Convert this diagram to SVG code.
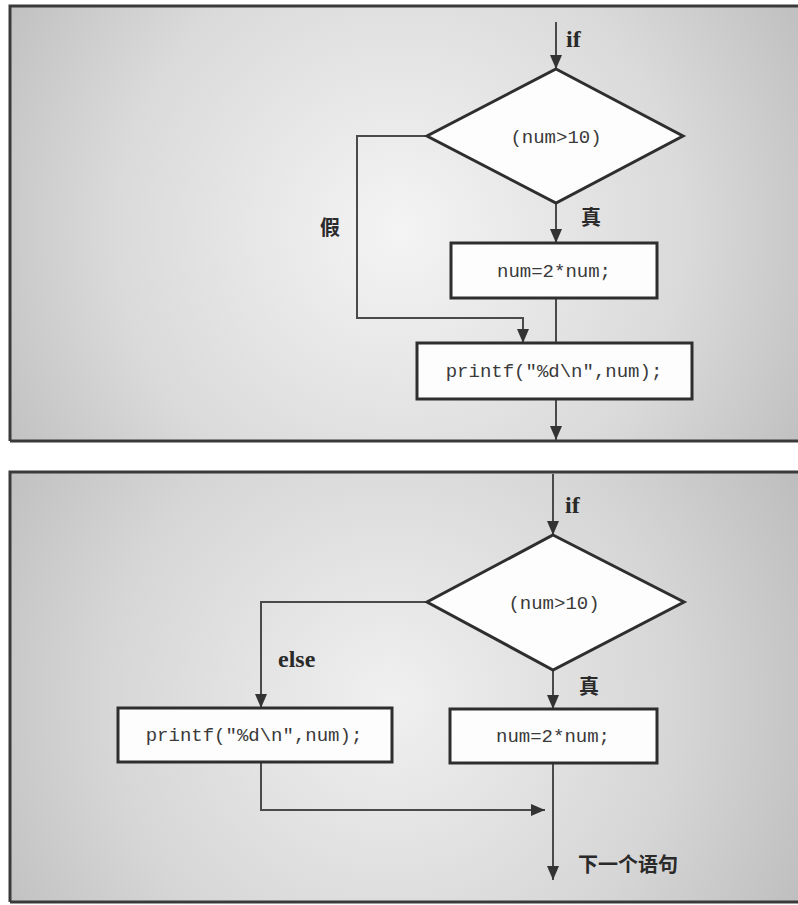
<svg xmlns="http://www.w3.org/2000/svg" width="798" height="905" viewBox="0 0 798 905">
<style>
.panel{fill:none;stroke:#3a3a3a;stroke-width:3}
.shape{fill:#fdfdfd;stroke:#2e2e2e;stroke-width:3}
.conn{fill:none;stroke:#4a4a4a;stroke-width:2}
.code{font-family:"Liberation Mono","Courier New",monospace;font-size:19px;fill:#3a3a3a;text-anchor:middle}
.lbl{font-family:"Liberation Serif","Times New Roman",serif;font-weight:bold;font-size:24px;fill:#2a2a2a}
.cjk{font-family:"Liberation Serif","Noto Sans CJK SC",sans-serif;font-weight:bold;font-size:20px;fill:#2a2a2a}
</style>
<defs>
<radialGradient id="bgTop" gradientUnits="userSpaceOnUse" cx="400" cy="230" r="520">
<stop offset="0" stop-color="#f4f4f4"/>
<stop offset="0.55" stop-color="#dadada"/>
<stop offset="1" stop-color="#b6b6b6"/>
</radialGradient>
<radialGradient id="bgBot" gradientUnits="userSpaceOnUse" cx="390" cy="700" r="520">
<stop offset="0" stop-color="#f0f0f0"/>
<stop offset="0.55" stop-color="#d6d6d6"/>
<stop offset="1" stop-color="#b6b6b6"/>
</radialGradient>
<marker id="arr" markerUnits="userSpaceOnUse" markerWidth="14" markerHeight="12" viewBox="0 0 14 12" refX="14" refY="6" orient="auto">
<path d="M0,0 L14,6 L0,12 z" fill="#333"/>
</marker>
</defs>
<rect x="0" y="0" width="798" height="905" fill="#ffffff"/>
<g id="panel-top">
<rect x="10" y="6" width="790" height="435" fill="url(#bgTop)"/>
<path class="panel" d="M10,441 V6 H798"/>
<path class="panel" d="M10,441 H798"/>
</g>
<g id="panel-bottom">
<rect x="10" y="472" width="790" height="430" fill="url(#bgBot)"/>
<path class="panel" d="M10,902 V472 H798"/>
<path class="panel" d="M10,902 H798"/>
</g>

<g id="connectors">
<path class="conn" d="M556,22 V69" marker-end="url(#arr)"/>
<path class="conn" d="M556,203 V243" marker-end="url(#arr)"/>
<path class="conn" d="M427,136 H357 V318 H523 V343" marker-end="url(#arr)"/>
<path class="conn" d="M556,298 V343"/>
<path class="conn" d="M556,399 V440" marker-end="url(#arr)"/>

<path class="conn" d="M553,474 V535" marker-end="url(#arr)"/>
<path class="conn" d="M553,670 V709" marker-end="url(#arr)"/>
<path class="conn" d="M427,602 H261 V708" marker-end="url(#arr)"/>
<path class="conn" d="M261,762 V810 H545"  marker-end="url(#arr)"/>
<path class="conn" d="M553,763 V880" marker-end="url(#arr)"/>
</g>

<g id="top-if">
<text class="lbl" x="566" y="47">if</text>
</g>
<g id="top-decision">
<polygon class="shape" points="556,69 683,136 556,203 427,136"/>
<text class="code" x="556" y="143">(num&gt;10)</text>
</g>
<g id="top-false-label">
<text class="cjk" x="330" y="235" text-anchor="middle">假</text>
</g>
<g id="top-true-label">
<text class="cjk" x="591" y="225" text-anchor="middle">真</text>
</g>
<g id="top-assign">
<rect class="shape" x="451" y="243" width="206" height="55"/>
<text class="code" x="554" y="277">num=2*num;</text>
</g>
<g id="top-printf">
<rect class="shape" x="417" y="343" width="275" height="56"/>
<text class="code" x="554" y="377">printf("%d\n",num);</text>
</g>

<g id="bottom-if">
<text class="lbl" x="565" y="513">if</text>
</g>
<g id="bottom-decision">
<polygon class="shape" points="553,535 684,602 553,670 427,602"/>
<text class="code" x="554" y="609">(num&gt;10)</text>
</g>
<g id="bottom-else-label">
<text class="lbl" x="278" y="667">else</text>
</g>
<g id="bottom-true-label">
<text class="cjk" x="589" y="694" text-anchor="middle">真</text>
</g>
<g id="bottom-printf">
<rect class="shape" x="118" y="708" width="274" height="54"/>
<text class="code" x="254" y="741">printf("%d\n",num);</text>
</g>
<g id="bottom-assign">
<rect class="shape" x="450" y="709" width="207" height="54"/>
<text class="code" x="553" y="742">num=2*num;</text>
</g>
<g id="next-label">
<text class="cjk" x="578" y="872" font-size="21">下一个语句</text>
</g>
</svg>
